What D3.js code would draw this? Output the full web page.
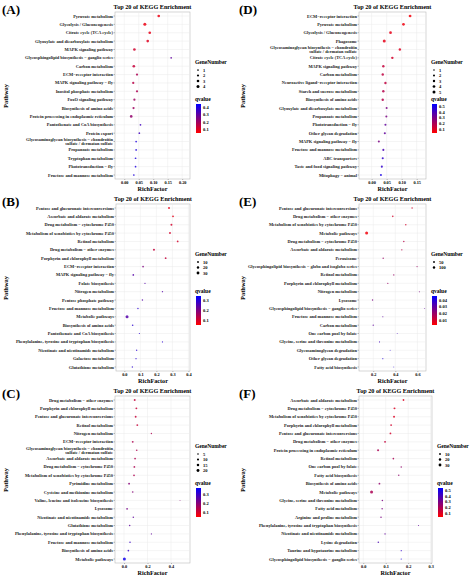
<!DOCTYPE html><html><head><meta charset="utf-8">
<script src="https://cdn.jsdelivr.net/npm/d3@7"></script>
<style>body{margin:0;background:#fff}svg{font-family:"Liberation Serif","DejaVu Serif",serif;font-weight:bold}</style>
</head><body><svg id="c" width="474" height="576"></svg><script>
const G="Glycosaminoglycan biosynthesis − chondroitin|sulfate / dermatan sulfate";
const catsA=["Pyruvate metabolism","Glycolysis / Gluconeogenesis","Citrate cycle (TCA cycle)","Glyoxylate and dicarboxylate metabolism","MAPK signaling pathway","Glycosphingolipid biosynthesis − ganglio series","Carbon metabolism","ECM−receptor interaction","MAPK signaling pathway − fly","Inositol phosphate metabolism","FoxO signaling pathway","Biosynthesis of amino acids","Protein processing in endoplasmic reticulum","Pantothenate and CoA biosynthesis","Protein export",G,"Propanoate metabolism","Tryptophan metabolism","Phototransduction − fly","Fructose and mannose metabolism"];
const rfA=[0.119,0.071,0.088,0.081,0.035,0.162,0.033,0.044,0.031,0.044,0.035,0.032,0.024,0.056,0.052,0.041,0.041,0.039,0.039,0.033];
const gnA=[3,4,3,3,3,1,3,2,2,2,2,2,3,1,1,1,1,1,1,1];
const qA=[0.08,0.08,0.09,0.1,0.12,0.3,0.14,0.18,0.16,0.18,0.2,0.2,0.22,0.35,0.35,0.4,0.4,0.4,0.4,0.4];
const catsD=["ECM−receptor interaction","Pyruvate metabolism","Glycolysis / Gluconeogenesis","Phagosome",G,"Citrate cycle (TCA cycle)","MAPK signaling pathway","Carbon metabolism","Neuroactive ligand−receptor interaction","Starch and sucrose metabolism","Biosynthesis of amino acids","Glyoxylate and dicarboxylate metabolism","Propanoate metabolism","Phototransduction − fly","Other glycan degradation","MAPK signaling pathway − fly","Fructose and mannose metabolism","ABC transporters","Taste and food signaling pathway","Mitophagy − animal"];
const rfD=[0.128,0.106,0.063,0.042,0.094,0.069,0.039,0.037,0.046,0.039,0.037,0.05,0.049,0.046,0.044,0.024,0.039,0.037,0.034,0.031];
const gnD=[4,4,4,5,3,3,3,3,3,3,3,2,2,2,2,2,2,2,2,2];
const qD=[0.05,0.06,0.08,0.08,0.1,0.12,0.15,0.16,0.16,0.18,0.18,0.3,0.3,0.35,0.35,0.3,0.4,0.45,0.45,0.5];
const catsB=["Pentose and glucuronate interconversions","Ascorbate and aldarate metabolism","Drug metabolism − cytochrome P450","Metabolism of xenobiotics by cytochrome P450","Retinol metabolism","Drug metabolism − other enzymes","Porphyrin and chlorophyll metabolism","ECM−receptor interaction","MAPK signaling pathway − fly","Folate biosynthesis","Nitrogen metabolism","Pentose phosphate pathway","Fructose and mannose metabolism","Metabolic pathways","Biosynthesis of amino acids","Pantothenate and CoA biosynthesis","Phenylalanine, tyrosine and tryptophan biosynthesis","Nicotinate and nicotinamide metabolism","Galactose metabolism","Glutathione metabolism"];
const rfB=[0.279,0.304,0.294,0.285,0.333,0.185,0.258,0.117,0.056,0.129,0.238,0.113,0.085,0.017,0.052,0.094,0.238,0.077,0.073,0.05];
const gnB=[12,10,12,12,9,13,9,8,8,4,4,5,5,33,6,3,3,4,4,4];
const qB=[0.08,0.08,0.1,0.1,0.1,0.12,0.12,0.2,0.25,0.25,0.25,0.25,0.3,0.25,0.3,0.3,0.3,0.3,0.3,0.3];
const catsE=["Pentose and glucuronate interconversions","Drug metabolism − other enzymes","Metabolism of xenobiotics by cytochrome P450","Metabolic pathways","Drug metabolism − cytochrome P450","Ascorbate and aldarate metabolism","Peroxisome","Glycosphingolipid biosynthesis − globo and isoglobo series","Retinol metabolism","Porphyrin and chlorophyll metabolism","Nitrogen metabolism","Lysosome","Glycosphingolipid biosynthesis − ganglio series","Fructose and mannose metabolism","Carbon metabolism","One carbon pool by folate","Glycine, serine and threonine metabolism","Glycosaminoglycan degradation","Other glycan degradation","Fatty acid biosynthesis"];
const rfE=[0.552,0.377,0.495,0.14,0.477,0.459,0.29,0.597,0.386,0.332,0.618,0.194,0.666,0.287,0.2,0.417,0.257,0.353,0.287,0.386];
const gnE=[24,32,26,160,25,24,22,12,20,19,10,22,8,13,20,7,11,8,9,6];
const qE=[0.01,0.01,0.01,0.005,0.015,0.015,0.02,0.02,0.02,0.02,0.025,0.025,0.03,0.03,0.03,0.035,0.035,0.04,0.04,0.04];
const catsC=["Drug metabolism − other enzymes","Porphyrin and chlorophyll metabolism","Pentose and glucuronate interconversions","Retinol metabolism","Nitrogen metabolism","ECM−receptor interaction",G,"Ascorbate and aldarate metabolism","Drug metabolism − cytochrome P450","Metabolism of xenobiotics by cytochrome P450","Pyrimidine metabolism","Cysteine and methionine metabolism","Valine, leucine and isoleucine biosynthesis","Lysosome","Nicotinate and nicotinamide metabolism","Glutathione metabolism","Phenylalanine, tyrosine and tryptophan biosynthesis","Fructose and mannose metabolism","Biosynthesis of amino acids","Metabolic pathways"];
const rfC=[0.091,0.105,0.099,0.113,0.233,0.074,0.108,0.094,0.088,0.085,0.043,0.074,0.477,0.026,0.079,0.048,0.233,0.051,0.037,0.003];
const gnC=[8,7,7,7,3,7,5,6,6,6,7,5,1,6,4,4,2,4,5,22];
const qC=[0.12,0.12,0.12,0.12,0.15,0.15,0.15,0.15,0.15,0.15,0.2,0.2,0.2,0.22,0.25,0.25,0.25,0.3,0.3,0.35];
const catsF=["Ascorbate and aldarate metabolism","Drug metabolism − cytochrome P450","Metabolism of xenobiotics by cytochrome P450","Porphyrin and chlorophyll metabolism","Pentose and glucuronate interconversions","Drug metabolism − other enzymes","Protein processing in endoplasmic reticulum","Retinol metabolism","One carbon pool by folate","Fatty acid biosynthesis","Biosynthesis of amino acids","Metabolic pathways","Glycine, serine and threonine metabolism","Fatty acid metabolism","Arginine and proline metabolism","Phenylalanine, tyrosine and tryptophan biosynthesis","Nicotinate and nicotinamide metabolism","Lysine degradation","Taurine and hypotaurine metabolism","Glycosphingolipid biosynthesis − ganglio series"];
const rfF=[0.179,0.139,0.137,0.124,0.121,0.097,0.066,0.134,0.169,0.158,0.072,0.037,0.085,0.084,0.079,0.246,0.097,0.067,0.169,0.169];
const gnF=[9,12,12,9,9,11,13,8,5,5,9,33,6,6,6,2,5,6,3,3];
const qF=[0.1,0.1,0.1,0.12,0.12,0.15,0.2,0.2,0.25,0.25,0.25,0.2,0.3,0.3,0.3,0.35,0.35,0.4,0.45,0.5];

const panels=[
 {lab:"(A)",ox:0,oy:0,c:catsA,r:rfA,g:gnA,q:qA,px:[115,190],dom:[-0.032,0.227],ticks:[0,0.05,0.1,0.15,0.2],fmt:".2f",gl:[1,2,3,4],gmax:4,ql:[0.1,0.2,0.3,0.4],qd:[0.05,0.45]},
 {lab:"(D)",ox:237,oy:0,c:catsD,r:rfD,g:gnD,q:qD,px:[122,189],dom:[-0.042,0.181],ticks:[0,0.05,0.1,0.15],fmt:".2f",gl:[1,2,3,4,5],gmax:5,ql:[0.1,0.2,0.3,0.4,0.5],qd:[0.03,0.55]},
 {lab:"(B)",ox:0,oy:192,c:catsB,r:rfB,g:gnB,q:qB,px:[116,190],dom:[-0.052,0.41],ticks:[0,0.1,0.2,0.3,0.4],fmt:".1f",gl:[10,20,30],gmax:33,ql:[0.1,0.2,0.3],qd:[0.05,0.35]},
 {lab:"(E)",ox:237,oy:192,c:catsE,r:rfE,g:gnE,q:qE,px:[122,189],dom:[0.071,0.678],ticks:[0.2,0.4,0.6],fmt:".1f",gl:[50,100],gmax:160,ql:[0.01,0.02,0.03,0.04],qd:[0.003,0.046]},
 {lab:"(C)",ox:0,oy:384,c:catsC,r:rfC,g:gnC,q:qC,px:[115,190],dom:[-0.077,0.562],ticks:[0,0.2,0.4],fmt:".1f",gl:[5,10,15,20],gmax:22,ql:[0.1,0.2,0.3],qd:[0.05,0.37]},
 {lab:"(F)",ox:237,oy:384,c:catsF,r:rfF,g:gnF,q:qF,px:[122,195],dom:[-0.019,0.306],ticks:[0,0.1,0.2,0.3],fmt:".1f",gl:[10,20,30],gmax:33,ql:[0.1,0.2,0.3,0.4,0.5],qd:[0.03,0.55]}
];
const svg=d3.select("#c");
panels.forEach(p=>{
 const g=svg.append("g").attr("transform",`translate(${p.ox},${p.oy})`);
 const top=12,bot=179;
 const x=d3.scaleLinear().domain(p.dom).range(p.px);
 const y=d3.scalePoint().domain(p.c).range([top+4,bot-4]);
 const rs=d3.scaleSqrt().domain([0,p.gmax]).range([0.2,1.5]);
 const col=d3.scaleLinear().domain(p.qd).range(["#ff0000","#0000ff"]).interpolate(d3.interpolateRgb);
 g.append("rect").attr("x",p.px[0]).attr("y",top).attr("width",p.px[1]-p.px[0]).attr("height",bot-top).attr("fill","#fff").attr("stroke","#bbb").attr("stroke-width",0.6);
 p.ticks.forEach(t=>g.append("line").attr("x1",x(t)).attr("x2",x(t)).attr("y1",top).attr("y2",bot).attr("stroke","#ebebeb").attr("stroke-width",0.5));
 p.c.forEach(c=>g.append("line").attr("x1",p.px[0]).attr("x2",p.px[1]).attr("y1",y(c)).attr("y2",y(c)).attr("stroke","#ebebeb").attr("stroke-width",0.5));
 const ax=g.append("g").attr("transform",`translate(0,${bot})`).call(d3.axisBottom(x).tickValues(p.ticks).tickFormat(d3.format(p.fmt)).tickSize(1).tickPadding(1));
 ax.select(".domain").remove();ax.selectAll("text").attr("font-size",4.3).attr("font-family","Liberation Serif").attr("font-weight","bold").attr("dy","0.71em");
 ax.selectAll("line").attr("stroke","#555").attr("stroke-width",0.4);
 p.c.forEach(c=>{const parts=c.split("|");const t=g.append("text").attr("x",p.px[0]-2).attr("y",y(c)).attr("text-anchor","end").attr("font-size",4.4).attr("fill","#222");
  parts.forEach((s,i)=>t.append("tspan").attr("x",p.px[0]-2).attr("dy",i==0?(parts.length>1?"-0.15em":"0.35em"):"1em").text(s));
  g.append("line").attr("x1",p.px[0]-1.5).attr("x2",p.px[0]).attr("y1",y(c)).attr("y2",y(c)).attr("stroke","#555").attr("stroke-width",0.4);});
 g.selectAll("circle.d").data(p.c).join("circle").attr("cx",(d,i)=>x(p.r[i])).attr("cy",d=>y(d)).attr("r",(d,i)=>rs(p.g[i])).attr("fill",(d,i)=>col(p.q[i])).attr("fill-opacity",0.85);
 const cx=(p.px[0]+p.px[1])/2;
 g.append("text").attr("x",cx).attr("y",9).attr("text-anchor","middle").attr("font-size",6.2).text("Top 20 of KEGG Enrichment");
 g.append("text").attr("x",cx).attr("y",191).attr("text-anchor","middle").attr("font-size",6.2).text("RichFactor");
 g.append("text").attr("transform","translate(8,96) rotate(-90)").attr("text-anchor","middle").attr("font-size",6.5).text("Pathway");
 g.append("text").attr("x",2).attr("y",14).attr("font-size",13).text(p.lab);
 const lx=p.px[1]+5;
 g.append("text").attr("x",lx).attr("y",64).attr("font-size",5.5).text("GeneNumber");
 p.gl.forEach((v,i)=>{g.append("circle").attr("cx",lx+3).attr("cy",70+i*5.5).attr("r",rs(v)).attr("fill","#000");
  g.append("text").attr("x",lx+8).attr("y",71.6+i*5.5).attr("font-size",4.5).text(v);});
 g.append("text").attr("x",lx).attr("y",101).attr("font-size",5.5).text("qvalue");
 const gid="gr"+p.lab.replace(/\W/g,"");
 const lg=svg.append("defs").append("linearGradient").attr("id",gid).attr("x1",0).attr("x2",0).attr("y1",1).attr("y2",0);
 lg.append("stop").attr("offset","0%").attr("stop-color","#ff0000");lg.append("stop").attr("offset","100%").attr("stop-color","#0000ff");
 const cy0=104,cy1=133;
 g.append("rect").attr("x",lx+1).attr("y",cy0).attr("width",5).attr("height",cy1-cy0).attr("fill",`url(#${gid})`);
 const qs=d3.scaleLinear().domain(p.qd).range([cy1,cy0]);
 p.ql.forEach(v=>g.append("text").attr("x",lx+8).attr("y",qs(v)+1.5).attr("font-size",4.5).text(v));
});
</script></body></html>
